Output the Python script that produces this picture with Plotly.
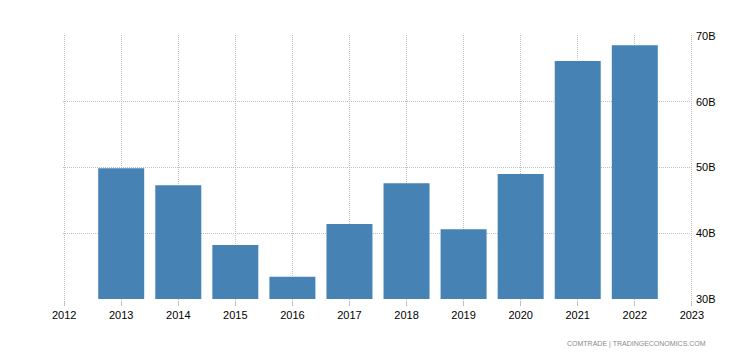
import plotly.graph_objects as go

years = [2013, 2014, 2015, 2016, 2017, 2018, 2019, 2020, 2021, 2022]
values_b = [49.9, 47.3, 38.2, 33.4, 41.4, 47.6, 40.6, 49.0, 66.2, 68.6]
x_ticks = list(range(2012, 2024))
y_ticks = [30, 40, 50, 60, 70]
y_labels = ["30B", "40B", "50B", "60B", "70B"]
source = "COMTRADE | TRADINGECONOMICS.COM"

font_fam = "Liberation Sans Narrow, Arial Narrow, Liberation Sans, Arial, sans-serif"

fig = go.Figure(go.Bar(
    x=years, y=values_b, width=0.806, base=30,
    marker=dict(color="#4682B4", line=dict(width=0)),
    hoverinfo="x+y",
))
# bars measured from the 30B baseline
fig.data[0].y = [v - 30 for v in values_b]

fig.update_layout(
    width=742, height=358,
    margin=dict(l=63, r=49, t=35, b=58, autoexpand=False),
    paper_bgcolor="white", plot_bgcolor="white",
    showlegend=False,
    font=dict(family=font_fam, size=11, color="#000"),
    xaxis=dict(
        range=[2011.98, 2023.02], tickvals=x_ticks, ticktext=[str(v) for v in x_ticks],
        showgrid=True, gridcolor="#c0c0c0", griddash="1px,1px", gridwidth=1,
        ticks="outside", ticklen=5, tickcolor="#c0c0c0", tickwidth=1,
        showline=False, zeroline=False, fixedrange=True,
        automargin=False,
    ),
    yaxis=dict(
        range=[29.85, 70.15], side="right", tickvals=y_ticks, ticktext=y_labels,
        showgrid=True, gridcolor="#c0c0c0", griddash="1px,1px", gridwidth=1,
        ticks="", showline=False, zeroline=False, fixedrange=True,
        ticklabelstandoff=2, automargin=False,
    ),
    annotations=[dict(
        text=source, xref="paper", yref="paper", x=1.0244, y=-0.167,
        xanchor="right", yanchor="middle", showarrow=False,
        font=dict(family=font_fam, size=7, color="#8a8a8a"),
    )],
)

fig.write_html(
    "out.html",
    config={"displayModeBar": False},
    post_script="document.body.style.margin='0';document.body.style.padding='0';",
)
